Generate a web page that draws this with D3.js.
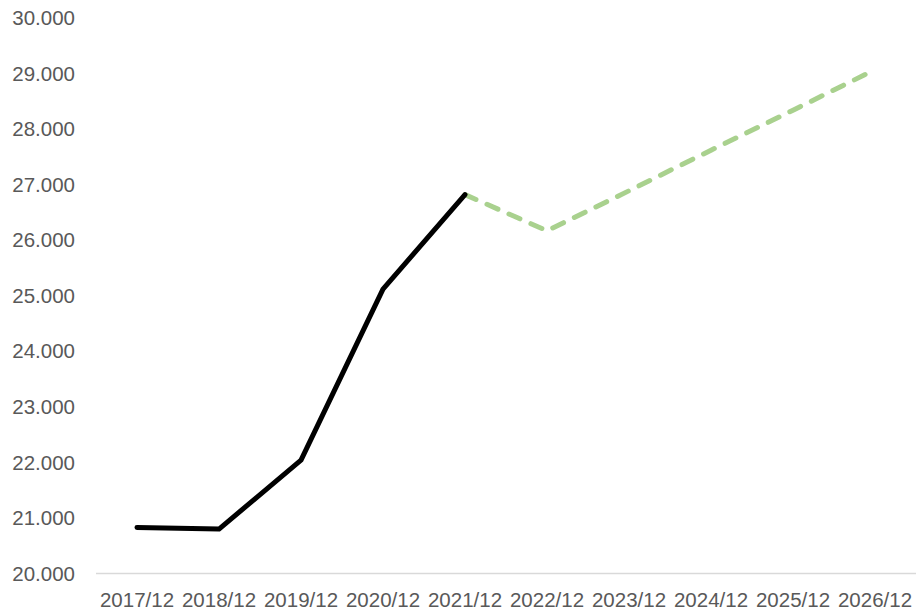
<!DOCTYPE html>
<html>
<head>
<meta charset="utf-8">
<script src="https://cdn.jsdelivr.net/npm/d3@7"></script>
<style>
  body { margin: 0; background: #fff; }
  text { font-family: "Liberation Sans", Arial, sans-serif; }
</style>
</head>
<body>
<div id="chart"></div>
<script>
const periods = ['2017/12', '2018/12', '2019/12', '2020/12', '2021/12',
                 '2022/12', '2023/12', '2024/12', '2025/12', '2026/12'];
const actual = [20.83, 20.80, 22.04, 25.12, 26.82, null, null, null, null, null];
const forecast = [null, null, null, null, 26.82, 26.17, 26.89, 27.62, 28.34, 29.07];
const yTicks = [20, 21, 22, 23, 24, 25, 26, 27, 28, 29, 30];

const width = 921, height = 611;

const svg = d3.select('#chart').append('svg')
    .attr('width', width)
    .attr('height', height);

const x = d3.scalePoint()
    .domain(periods)
    .range([137, 875]);

const y = d3.scaleLinear()
    .domain([20, 30])
    .range([573.5, 18]);

// baseline
svg.append('line')
    .attr('x1', 96).attr('x2', 916)
    .attr('y1', y(20)).attr('y2', y(20))
    .attr('stroke', '#d9d9d9')
    .attr('stroke-width', 1.3);

// y axis labels
svg.append('g')
    .selectAll('text')
    .data(yTicks)
    .join('text')
    .attr('x', 75)
    .attr('y', d => y(d))
    .attr('dy', '0.35em')
    .attr('text-anchor', 'end')
    .attr('fill', '#595959')
    .attr('font-size', 20.5)
    .text(d => d.toFixed(3));

// x axis labels
svg.append('g')
    .selectAll('text')
    .data(periods)
    .join('text')
    .attr('x', d => x(d))
    .attr('y', 600)
    .attr('dy', '0.35em')
    .attr('text-anchor', 'middle')
    .attr('fill', '#595959')
    .attr('font-size', 20.5)
    .text(d => d);

const line = d3.line()
    .defined(d => d.v !== null)
    .x(d => x(d.p))
    .y(d => y(d.v));

svg.append('path')
    .datum(periods.map((p, i) => ({ p, v: forecast[i] })))
    .attr('d', line)
    .attr('fill', 'none')
    .attr('stroke', '#a9d18e')
    .attr('stroke-width', 5)
    .attr('stroke-linecap', 'round')
    .attr('stroke-dasharray', '12,12');

svg.append('path')
    .datum(periods.map((p, i) => ({ p, v: actual[i] })))
    .attr('d', line)
    .attr('fill', 'none')
    .attr('stroke', '#000')
    .attr('stroke-width', 5)
    .attr('stroke-linecap', 'round')
    .attr('stroke-linejoin', 'round');
</script>
</body>
</html>
